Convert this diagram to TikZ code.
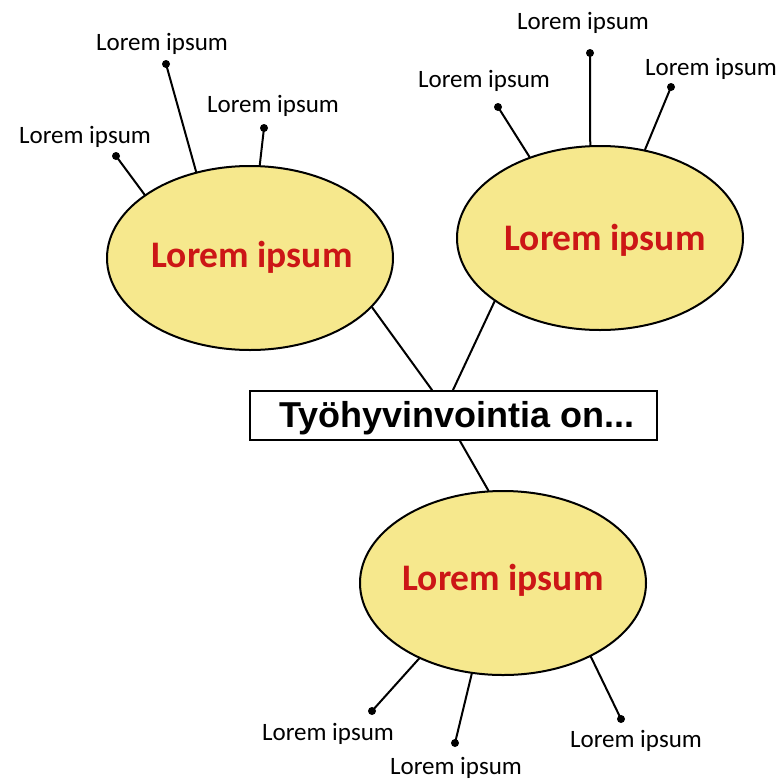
\documentclass[tikz,border=0pt]{standalone}
\usepackage{fontspec}
\setmainfont{Carlito}
\newfontfamily\titlefont{Liberation Sans}
\usetikzlibrary{shapes.geometric,calc}
\definecolor{ellfill}{RGB}{246,232,141}
\definecolor{lblred}{RGB}{204,22,22}
\tikzset{
  blob/.style={ellipse,draw=black,line width=2pt,fill=ellfill,inner sep=0pt,minimum width=286pt,minimum height=184pt},
  conn/.style={line width=2pt,line cap=round},
  dotend/.style={circle,fill=black,inner sep=0pt,minimum size=8pt},
  smalllbl/.style={anchor=base,inner sep=0pt,font=\fontsize{25}{28}\selectfont},
  biglbl/.style={anchor=base,inner sep=0pt,text=lblred,font=\fontsize{37.5}{40}\selectfont\bfseries},
  titlebox/.style={draw=black,line width=2pt,fill=white,minimum width=407pt,minimum height=49pt,inner sep=0pt}
}
\begin{document}
\begin{tikzpicture}[x=1pt,y=-1pt]
\useasboundingbox (0,0) rectangle (781,779);
% ellipses and title box
\node[blob] (L) at (250,258) {};
\node[blob] (R) at (600,238) {};
\node[blob] (B) at (503,583) {};
\node[titlebox] (T) at (453,415.5) {};
% connectors to title
\draw[conn] (L.-22.9) -- ($(T.north)+(-21,0)$);
\draw[conn] (R.211.9) -- (T.north);
\draw[conn] ($(T.south)+(7,0)$) -- (B.99.6);
% dots
\node[dotend] (l1) at (116,156) {};
\node[dotend] (l2) at (166,64) {};
\node[dotend] (l3) at (264,128) {};
\node[dotend] (r1) at (498,107) {};
\node[dotend] (r2) at (590,53) {};
\node[dotend] (r3) at (671,87) {};
\node[dotend] (b1) at (372,711) {};
\node[dotend] (b2) at (455,743) {};
\node[dotend] (b3) at (621,719) {};
\draw[conn] (l1.center) -- (L.149.7);
\draw[conn] (l2.center) -- (L.122.9);
\draw[conn] (l3.center) -- (L.84.4);
\draw[conn] (r1.center) -- (R.131.6);
\draw[conn] (r2.center) -- (R.96.2);
\draw[conn] (r3.center) -- (R.63.7);
\draw[conn] (b1.center) -- (B.222.2);
\draw[conn] (b2.center) -- (B.251);
\draw[conn] (b3.center) -- (B.-40.7);
% texts
\node[biglbl] (Lt) at (252,267) {Lorem ipsum};
\node[biglbl] (Rt) at (605,250) {Lorem ipsum};
\node[biglbl] (Bt) at (503,590) {Lorem ipsum};
\node[anchor=base,inner sep=0pt,font=\titlefont\fontsize{36}{40}\selectfont\bfseries] (Tt) at (457,427) {Työhyvinvointia on...};
\node[smalllbl] (ll1) at (85,143) {Lorem ipsum};
\node[smalllbl] (ll2) at (162,50) {Lorem ipsum};
\node[smalllbl] (ll3) at (273,112) {Lorem ipsum};
\node[smalllbl] (rl1) at (484,87) {Lorem ipsum};
\node[smalllbl] (rl2) at (583,29) {Lorem ipsum};
\node[smalllbl] (rl3) at (711,75) {Lorem ipsum};
\node[smalllbl] (bl1) at (328,740) {Lorem ipsum};
\node[smalllbl] (bl2) at (456,774) {Lorem ipsum};
\node[smalllbl] (bl3) at (636,747) {Lorem ipsum};
\end{tikzpicture}
\end{document}
